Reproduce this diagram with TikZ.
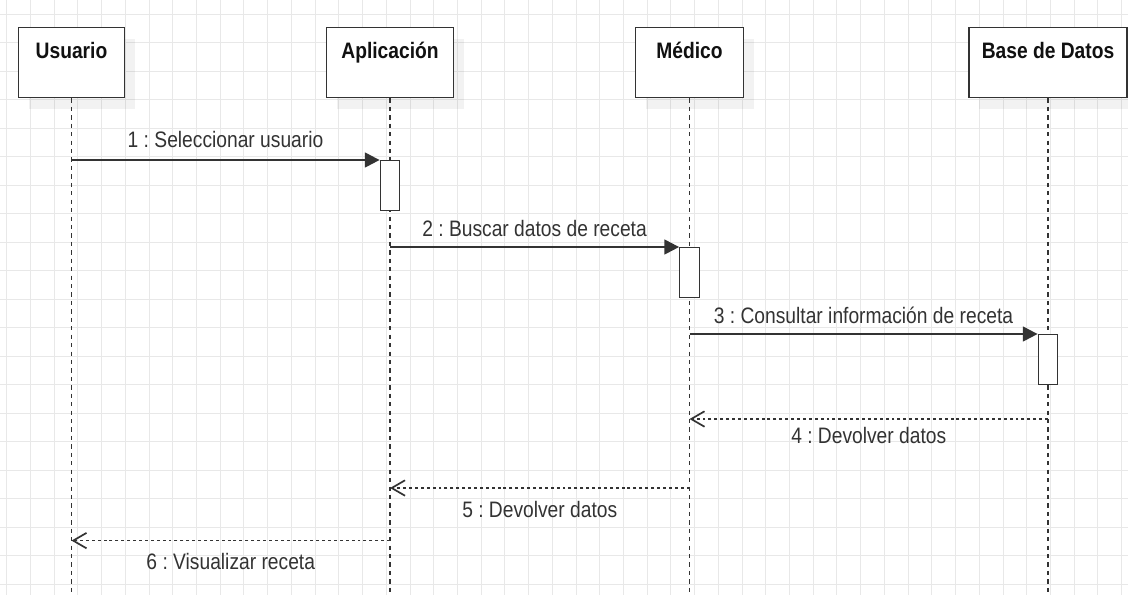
\documentclass[tikz,border=0pt]{standalone}
\usepackage{fontspec}
\setmainfont{Liberation Sans}[FakeStretch=0.86]
\usepackage{tikz}
\usetikzlibrary{arrows.meta}
\usetikzlibrary{shadows,positioning}
\definecolor{penColor}{HTML}{333333}
\definecolor{gridColor}{HTML}{E8E8E8}
\definecolor{titleColor}{HTML}{111111}
\newcommand{\diagfont}{\fontsize{15.9pt}{19pt}\selectfont}
\frenchspacing
\tikzset{
  gridline/.style={draw=gridColor,line width=0.6pt},
  actor/.style={draw=penColor,line width=1pt,fill=white,
    minimum width=#1,inner xsep=0pt,inner ysep=0.36cm,
    text height=0.4cm,text depth=0.63cm,
    font=\diagfont\bfseries,text=titleColor,
    drop shadow={shadow xshift=0.26cm,shadow yshift=-0.27cm,
      fill=black,opacity=0.05}},
  lifeline/.style={draw=penColor,line width=0.9pt,
    dash pattern=on 3pt off 3pt},
  activation/.style={draw=penColor,line width=1pt,fill=white,
    minimum width=0.4875cm,minimum height=1.24cm,inner sep=0pt},
  call/.style={draw=penColor,line width=1.05pt,
    -{Triangle[length=10.4pt,width=10.6pt]}},
  reply/.style={draw=penColor,line width=1pt,
    dash pattern=on 2.1pt off 2.1pt,
    -{Straight Barb[length=9.5pt,width=11pt,line width=1.2pt]}},
  msg/.style={text=penColor,font=\diagfont,inner sep=0pt,
    text height=0.4cm,text depth=0pt}
}

\begin{document}
\begin{tikzpicture}[x=0.025cm,y=-0.025cm]

  \useasboundingbox (0,0) rectangle (1128,595);
  \fill [white] (0,0) rectangle (1128,595);

  % background grid
  \foreach \i in {0,...,47}
    \draw [gridline] ({6.7+23.72*\i},0) -- ({6.7+23.72*\i},595);
  \foreach \j in {0,...,20}
    \draw [gridline] (0,{14+28.5*\j}) -- (1128,{14+28.5*\j});

  \coordinate (fondo) at (0,595);
  \coordinate (y1) at (0,160);
  \coordinate (y2) at (0,247);
  \coordinate (y3) at (0,334);
  \coordinate (y4) at (0,419);
  \coordinate (y5) at (0,488);
  \coordinate (y6) at (0,540.6);

  \node [actor=2.65cm] (usuario) at (71.5,62.7) {Usuario};
  \node [actor=3.175cm] (aplicacion) at (390,62.7) {Aplicación};
  \node [actor=2.7cm] (medico) at (689.5,62.7) {Médico};
  \node [actor=3.95cm] (datos) at (1048,62.7) {Base de Datos};

  \draw [lifeline] (usuario.south) -- (usuario.south |- fondo);
  \draw [lifeline] (aplicacion.south) -- (aplicacion.south |- fondo);
  \draw [lifeline] (medico.south) -- (medico.south |- fondo);
  \draw [lifeline] (datos.south) -- (datos.south |- fondo);

  \node [activation,anchor=north] (act1) at (aplicacion.south |- y1) {};
  \node [activation,anchor=north] (act2) at (medico.south |- y2) {};
  \node [activation,anchor=north] (act3) at (datos.south |- y3) {};

  \draw [call] (usuario.south |- y1) --
    node [msg,yshift=0.52cm] (m1) {1 : Seleccionar usuario} (act1.north west);
  \draw [call] (aplicacion.south |- y2) --
    node [msg,yshift=0.47cm] (m2) {2 : Buscar datos de receta} (act2.north west);
  \draw [call] (medico.south |- y3) --
    node [msg,yshift=0.475cm] (m3) {3 : Consultar información de receta} (act3.north west);

  \draw [reply] (datos.south |- y4) --
    node [msg,yshift=-0.4cm] (m4) {4 : Devolver datos} (medico.south |- y4);
  \draw [reply] (medico.south |- y5) --
    node [msg,yshift=-0.53cm] (m5) {5 : Devolver datos} (aplicacion.south |- y5);
  \draw [reply] (aplicacion.south |- y6) --
    node [msg,yshift=-0.53cm] (m6) {6 : Visualizar receta} (usuario.south |- y6);

\end{tikzpicture}
\end{document}
